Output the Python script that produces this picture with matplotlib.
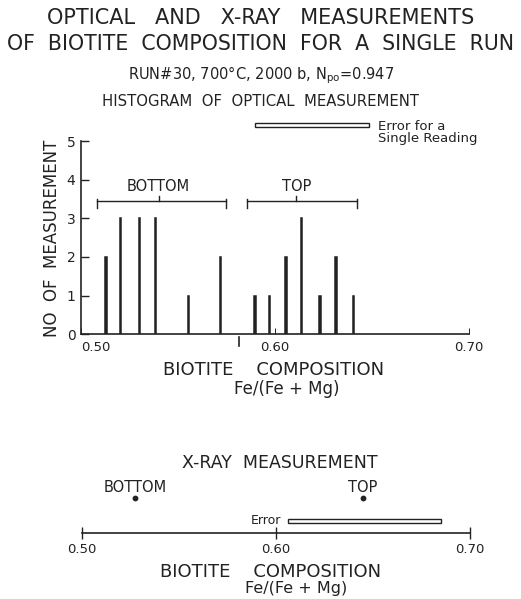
import matplotlib
matplotlib.use("Agg")
import matplotlib.pyplot as plt

# ---- data ----
optical_comp = [0.5129, 0.5205, 0.5301, 0.5383, 0.5555, 0.572,
                0.5897, 0.5971, 0.6057, 0.6138, 0.6232, 0.6314, 0.6404]
optical_count = [2, 3, 3, 3, 1, 2,
                 1, 1, 2, 3, 1, 2, 1]
bottom_range = [0.508, 0.5745]
bottom_center = 0.540
top_range = [0.5855, 0.6425]
top_center = 0.611
divider_comp = 0.5815
optical_error = [0.5895, 0.6485]   # error for a single reading (start, end)
xray_labels = ["BOTTOM", "TOP"]
xray_comp = [0.5274, 0.6449]
xray_error = [0.606, 0.6853]
xticks = [0.50, 0.60, 0.70]
xticklabels = ["0.50", "0.60", "0.70"]
yticks = [0, 1, 2, 3, 4, 5]

INK = "#222222"
W, H = 521, 599
plt.rcParams['font.family'] = ['DejaVu Sans']

fig = plt.figure(figsize=(W / 100, H / 100), dpi=100)
fig.patch.set_facecolor("white")

def fx(px):
    return px / W

def fy(py):
    return 1 - py / H

# ---- titles ----
fig.text(0.5, fy(18), "OPTICAL   AND   X-RAY   MEASUREMENTS", ha="center", va="center",
         fontsize=15, color=INK)
fig.text(0.5, fy(44), "OF  BIOTITE  COMPOSITION  FOR  A  SINGLE  RUN", ha="center",
         va="center", fontsize=14.8, color=INK)
fig.text(fx(261), fy(75), r"RUN#30, 700°C, 2000 b, N$_{\rm po}$=0.947", ha="center",
         va="center", fontsize=10.5, color=INK)
fig.text(fx(260), fy(102), "HISTOGRAM  OF  OPTICAL  MEASUREMENT", ha="center",
         va="center", fontsize=10.7, color=INK)

# ---- top: histogram ----
ax1 = fig.add_axes([fx(81), fy(334), (469 - 81) / W, (334 - 141.5) / H])
ax1.set_xlim(0.50, 0.70)
ax1.set_ylim(0, 5)
ax1.bar(optical_comp, optical_count, width=0.0007, color=INK, edgecolor=INK,
        linewidth=1.1)
for s in ["top", "right"]:
    ax1.spines[s].set_visible(False)
for s in ["left", "bottom"]:
    ax1.spines[s].set_color(INK)
    ax1.spines[s].set_linewidth(1.2)
ax1.set_yticks(yticks)
ax1.set_yticklabels([str(v) for v in yticks])
ax1.tick_params(axis="y", direction="in", length=6, width=1, colors=INK,
                labelsize=10, pad=4)
ax1.set_xticks(xticks)
ax1.set_xticklabels(xticklabels)
ax1.tick_params(axis="x", direction="in", length=4, width=0.7, colors=INK,
                labelsize=9.5, pad=5)
ax1.get_xticklabels()[0].set_horizontalalignment("left")
# small mark below the axis
ax1.plot([divider_comp, divider_comp], [-0.08, -0.3], color=INK, lw=1.2, clip_on=False)

# brackets
for (x0, x1), xc, lab in [(bottom_range, bottom_center, "BOTTOM"),
                          (top_range, top_center, "TOP")]:
    yb = 3.46
    ax1.plot([x0, x1], [yb, yb], color=INK, lw=1)
    ax1.plot([x0, x0], [yb - 0.18, yb + 0.05], color=INK, lw=1)
    ax1.plot([x1, x1], [yb - 0.18, yb + 0.05], color=INK, lw=1)
    ax1.plot([xc, xc], [yb, yb + 0.12], color=INK, lw=1)
    ax1.text(xc, yb + 0.38, lab, ha="center", va="center", fontsize=10.5, color=INK)

# error for single reading
ax1.barh(5.43, optical_error[1] - optical_error[0], left=optical_error[0], height=0.09,
         fill=False, edgecolor=INK, linewidth=1, clip_on=False)
ax1.text(optical_error[1] + 0.0045, 5.40, "Error for a", ha="left", va="center",
         fontsize=9.5, color=INK, clip_on=False)
ax1.text(optical_error[1] + 0.0045, 5.09, "Single Reading", ha="left", va="center",
         fontsize=9.5, color=INK, clip_on=False)

fig.text(fx(52), fy(238), "NO  OF  MEASUREMENT", rotation=90, ha="center", va="center",
         fontsize=12, color=INK)
fig.text(fx(274), fy(370), "BIOTITE    COMPOSITION", ha="center", va="center",
         fontsize=13, color=INK)
fig.text(fx(287), fy(389), "Fe/(Fe + Mg)", ha="center", va="center",
         fontsize=12, color=INK)

# ---- bottom: x-ray ----
fig.text(fx(280), fy(463), "X-RAY  MEASUREMENT", ha="center", va="center",
         fontsize=12.5, color=INK)
ax2 = fig.add_axes([fx(82), fy(533), (470 - 82) / W, (533 - 460) / H])
ax2.set_xlim(0.50, 0.70)
ax2.set_ylim(0, 1)
for s in ["top", "right", "left"]:
    ax2.spines[s].set_visible(False)
ax2.spines["bottom"].set_color(INK)
ax2.spines["bottom"].set_linewidth(1.2)
ax2.set_yticks([])
ax2.set_xticks(xticks)
ax2.set_xticklabels(xticklabels)
ax2.tick_params(axis="x", direction="inout", length=9, width=1, colors=INK,
                labelsize=9.5, pad=3)
ax2.scatter(xray_comp, [0.484] * len(xray_comp), s=10, color=INK, clip_on=False)
for xc, lab in zip(xray_comp, xray_labels):
    ax2.text(xc, 0.63, lab, ha="center", va="center", fontsize=10.5, color=INK)
ax2.barh(0.16, xray_error[1] - xray_error[0], left=xray_error[0], height=0.055,
         fill=False, edgecolor=INK, linewidth=1)
ax2.text(xray_error[0] - 0.0035, 0.17, "Error", ha="right", va="center",
         fontsize=9, color=INK)

fig.text(fx(271), fy(572), "BIOTITE    COMPOSITION", ha="center", va="center",
         fontsize=13, color=INK)
fig.text(fx(296), fy(589), "Fe/(Fe + Mg)", ha="center", va="center",
         fontsize=11.5, color=INK)

fig.savefig("out.png", dpi=100, facecolor="white")
